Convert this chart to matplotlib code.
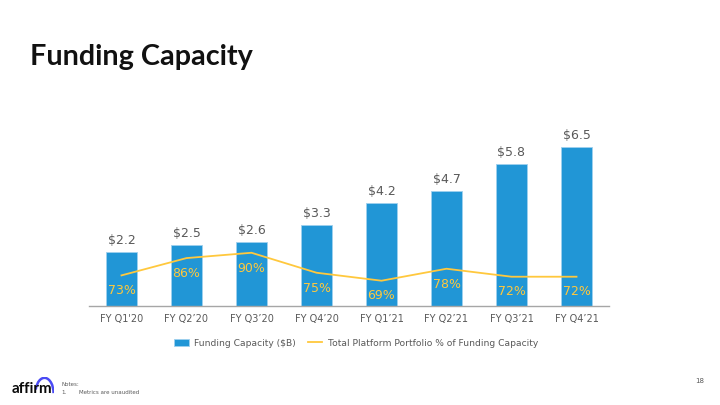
import numpy as np
import matplotlib
matplotlib.use('Agg')
import matplotlib.pyplot as plt
from matplotlib.patches import Arc

# data
quarters = ["FY Q1'20", "FY Q2\u201920", "FY Q3\u201920", "FY Q4\u201920",
            "FY Q1\u201921", "FY Q2\u201921", "FY Q3\u201921", "FY Q4\u201921"]
capacity = [2.2, 2.5, 2.6, 3.3, 4.2, 4.7, 5.8, 6.5]
portfolio_pct = [73, 86, 90, 75, 69, 78, 72, 72]

blue = '#2196D6'
yellow = '#FFC83D'
grey = '#595959'

fig = plt.figure(figsize=(7.2, 4.05), dpi=100)

# title
fig.text(30 / 720, 1 - 57 / 405, 'Funding Capacity', fontsize=20.7, fontweight='bold',
         family='Lato', va='center', ha='left', color='#111111')

ax = fig.add_axes([89 / 720, 1 - 306 / 405, 520 / 720, 181 / 405])
x = np.arange(len(quarters))
bars = ax.bar(x, capacity, width=0.48, color=blue, edgecolor='#9fd0ee', linewidth=0.6,
              label='Funding Capacity ($B)', zorder=2)
for xi, v in zip(x, capacity):
    ax.annotate(f'${v}', (xi, v), xytext=(0, 3.5), textcoords='offset points',
                ha='center', va='bottom', fontsize=9, color=grey)

ax.set_xlim(-0.5, len(quarters) - 0.5)
ax.set_ylim(0, 7.39)
ax.set_yticks([])
ax.set_xticks(x)
ax.set_xticklabels(quarters, fontsize=7, color=grey)
ax.tick_params(axis='x', length=0, pad=6)
for s in ['top', 'right', 'left']:
    ax.spines[s].set_visible(False)
ax.spines['bottom'].set_color('#A6A6A6')
ax.spines['bottom'].set_linewidth(1.0)

# secondary axis for the percentage line
ax2 = ax.twinx()
line, = ax2.plot(x, portfolio_pct, color=yellow, linewidth=1.3,
                 label='Total Platform Portfolio % of Funding Capacity', zorder=3)
for xi, p in zip(x, portfolio_pct):
    ax2.annotate(f'{p}%', (xi, p), xytext=(0, -11), textcoords='offset points',
                 ha='center', va='center', fontsize=9, color=yellow)
ax2.set_ylim(50, 186)
ax2.set_yticks([])
for s in ax2.spines.values():
    s.set_visible(False)

fig.legend(handles=[bars, line], loc='center', bbox_to_anchor=(356 / 720, 1 - 343 / 405),
           ncol=2, frameon=False, fontsize=6.6, handlelength=1.6, handleheight=0.9,
           handletextpad=0.6, columnspacing=1.3, labelcolor=grey)

# footer: logo, notes, page number
fig.text(12 / 720, 1 - 389 / 405, 'affirm', fontsize=11, fontweight='bold',
         color='#0a0a0a', va='center', ha='left', family='Lato')
arc_ax = fig.add_axes([35 / 720, 1 - 394 / 405, 19 / 720, 17 / 405])
arc_ax.add_patch(Arc((0.5, 0.05), 0.95, 1.8, theta1=0, theta2=155, color='#4A4AF4', lw=1.8))
arc_ax.set_xlim(0, 1)
arc_ax.set_ylim(0, 1)
arc_ax.axis('off')
fig.text(61 / 720, 1 - 385 / 405, 'Notes:', fontsize=4, color=grey, va='center')
fig.text(61 / 720, 1 - 393 / 405, '1.', fontsize=4, color=grey, va='center')
fig.text(79 / 720, 1 - 393 / 405, 'Metrics are unaudited', fontsize=4, color=grey, va='center')
fig.text(704 / 720, 1 - 381 / 405, '18', fontsize=5, color=grey, va='center', ha='right')

fig.savefig('out.png', dpi=100)
